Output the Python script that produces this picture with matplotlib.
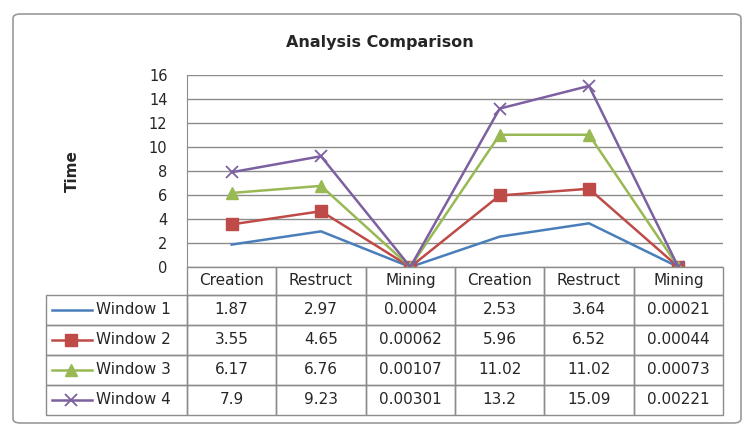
import numpy as np
import matplotlib
matplotlib.use("Agg")
import matplotlib.pyplot as plt
from matplotlib.patches import FancyBboxPatch, Rectangle

plt.rcParams["font.family"] = ["DejaVu Sans"]

categories = ["Creation", "Restruct", "Mining", "Creation", "Restruct", "Mining"]
series_names = ["Window 1", "Window 2", "Window 3", "Window 4"]
window1 = [1.87, 2.97, 0.0004, 2.53, 3.64, 0.00021]
window2 = [3.55, 4.65, 0.00062, 5.96, 6.52, 0.00044]
window3 = [6.17, 6.76, 0.00107, 11.02, 11.02, 0.00073]
window4 = [7.9, 9.23, 0.00301, 13.2, 15.09, 0.00221]
cell_text = [
    ["1.87", "2.97", "0.0004", "2.53", "3.64", "0.00021"],
    ["3.55", "4.65", "0.00062", "5.96", "6.52", "0.00044"],
    ["6.17", "6.76", "0.00107", "11.02", "11.02", "0.00073"],
    ["7.9", "9.23", "0.00301", "13.2", "15.09", "0.00221"],
]
yticks = [0, 2, 4, 6, 8, 10, 12, 14, 16]

styles = [
    dict(color="#4A7EBB", marker=None),
    dict(color="#BE4B48", marker="s", ms=8),
    dict(color="#98B954", marker="^", ms=8),
    dict(color="#7D60A0", marker="x", ms=9, mew=1.3),
]

W, H = 753, 428
fig = plt.figure(figsize=(W / 100, H / 100), dpi=100)
text_c = "#262626"
grid_c = "#8c8c8c"


def px_axes(x0, y0, x1, y1):
    return fig.add_axes([x0 / W, 1 - y1 / H, (x1 - x0) / W, (y1 - y0) / H])


# outer frame
fig.patches.append(FancyBboxPatch((13 / W, 5 / H), 728 / W, 409 / H,
                                  boxstyle="round,pad=0,rounding_size=0.01",
                                  transform=fig.transFigure, fill=False,
                                  ec="#9a9a9a", lw=1.2))

fig.text(380 / W, 1 - 42 / H, "Analysis Comparison", ha="center", va="center",
         fontsize=11.5, fontweight="bold", color=text_c)

# chart
left, right, top, zero = 187, 723, 75, 267
ax = px_axes(left, top, right, zero)
x = np.arange(len(categories))
for vals, st in zip([window1, window2, window3, window4], styles):
    ax.plot(x, vals, lw=1.8, **st)
ax.set_xlim(-0.5, len(categories) - 0.5)
ax.set_ylim(0, 16)
ax.set_yticks(yticks)
ax.set_xticks([])
ax.yaxis.grid(True, color=grid_c, lw=1)
ax.set_axisbelow(True)
for s in ["top", "right", "bottom"]:
    ax.spines[s].set_visible(False)
ax.spines["left"].set_color(grid_c)
ax.tick_params(axis="y", length=0, pad=14, labelsize=10.5, colors=text_c)
ax.set_ylabel("Time", fontsize=11, fontweight="bold", labelpad=50, color=text_c)
ax.patch.set_alpha(0)

# data table with legend keys
tx0, tx1, ty0, ty1 = 46, 723, 267, 415
tab = px_axes(tx0, ty0, tx1, ty1)
tab.set_xlim(tx0, tx1)
tab.set_ylim(ty1, ty0)
tab.axis("off")
col_w = (right - left) / len(categories)
head_h = 28
row_h = (ty1 - ty0 - head_h) / len(series_names)


def cell(x0, y0, w, h):
    tab.add_patch(Rectangle((x0, y0), w, h, fill=False, ec=grid_c, lw=1,
                            clip_on=False))


for j, cat in enumerate(categories):
    cx = left + j * col_w
    cell(cx, ty0, col_w, head_h)
    tab.text(cx + col_w / 2, ty0 + head_h / 2, cat, ha="center", va="center",
             fontsize=11, color=text_c)

for i, name in enumerate(series_names):
    ry = ty0 + head_h + i * row_h
    cy = ry + row_h / 2
    cell(tx0, ry, left - tx0, row_h)
    st = styles[i]
    tab.plot([52, 92], [cy, cy], lw=1.8, color=st["color"])
    if st["marker"]:
        tab.plot([71], [cy], color=st["color"], marker=st["marker"],
                 ms=st["ms"], mew=st.get("mew", 1))
    tab.text(96, cy, name, ha="left", va="center", fontsize=11, color=text_c)
    for j, val in enumerate(cell_text[i]):
        cx = left + j * col_w
        cell(cx, ry, col_w, row_h)
        tab.text(cx + col_w / 2, cy, val, ha="center", va="center",
                 fontsize=11, color=text_c)

fig.savefig("out.png", dpi=100)
